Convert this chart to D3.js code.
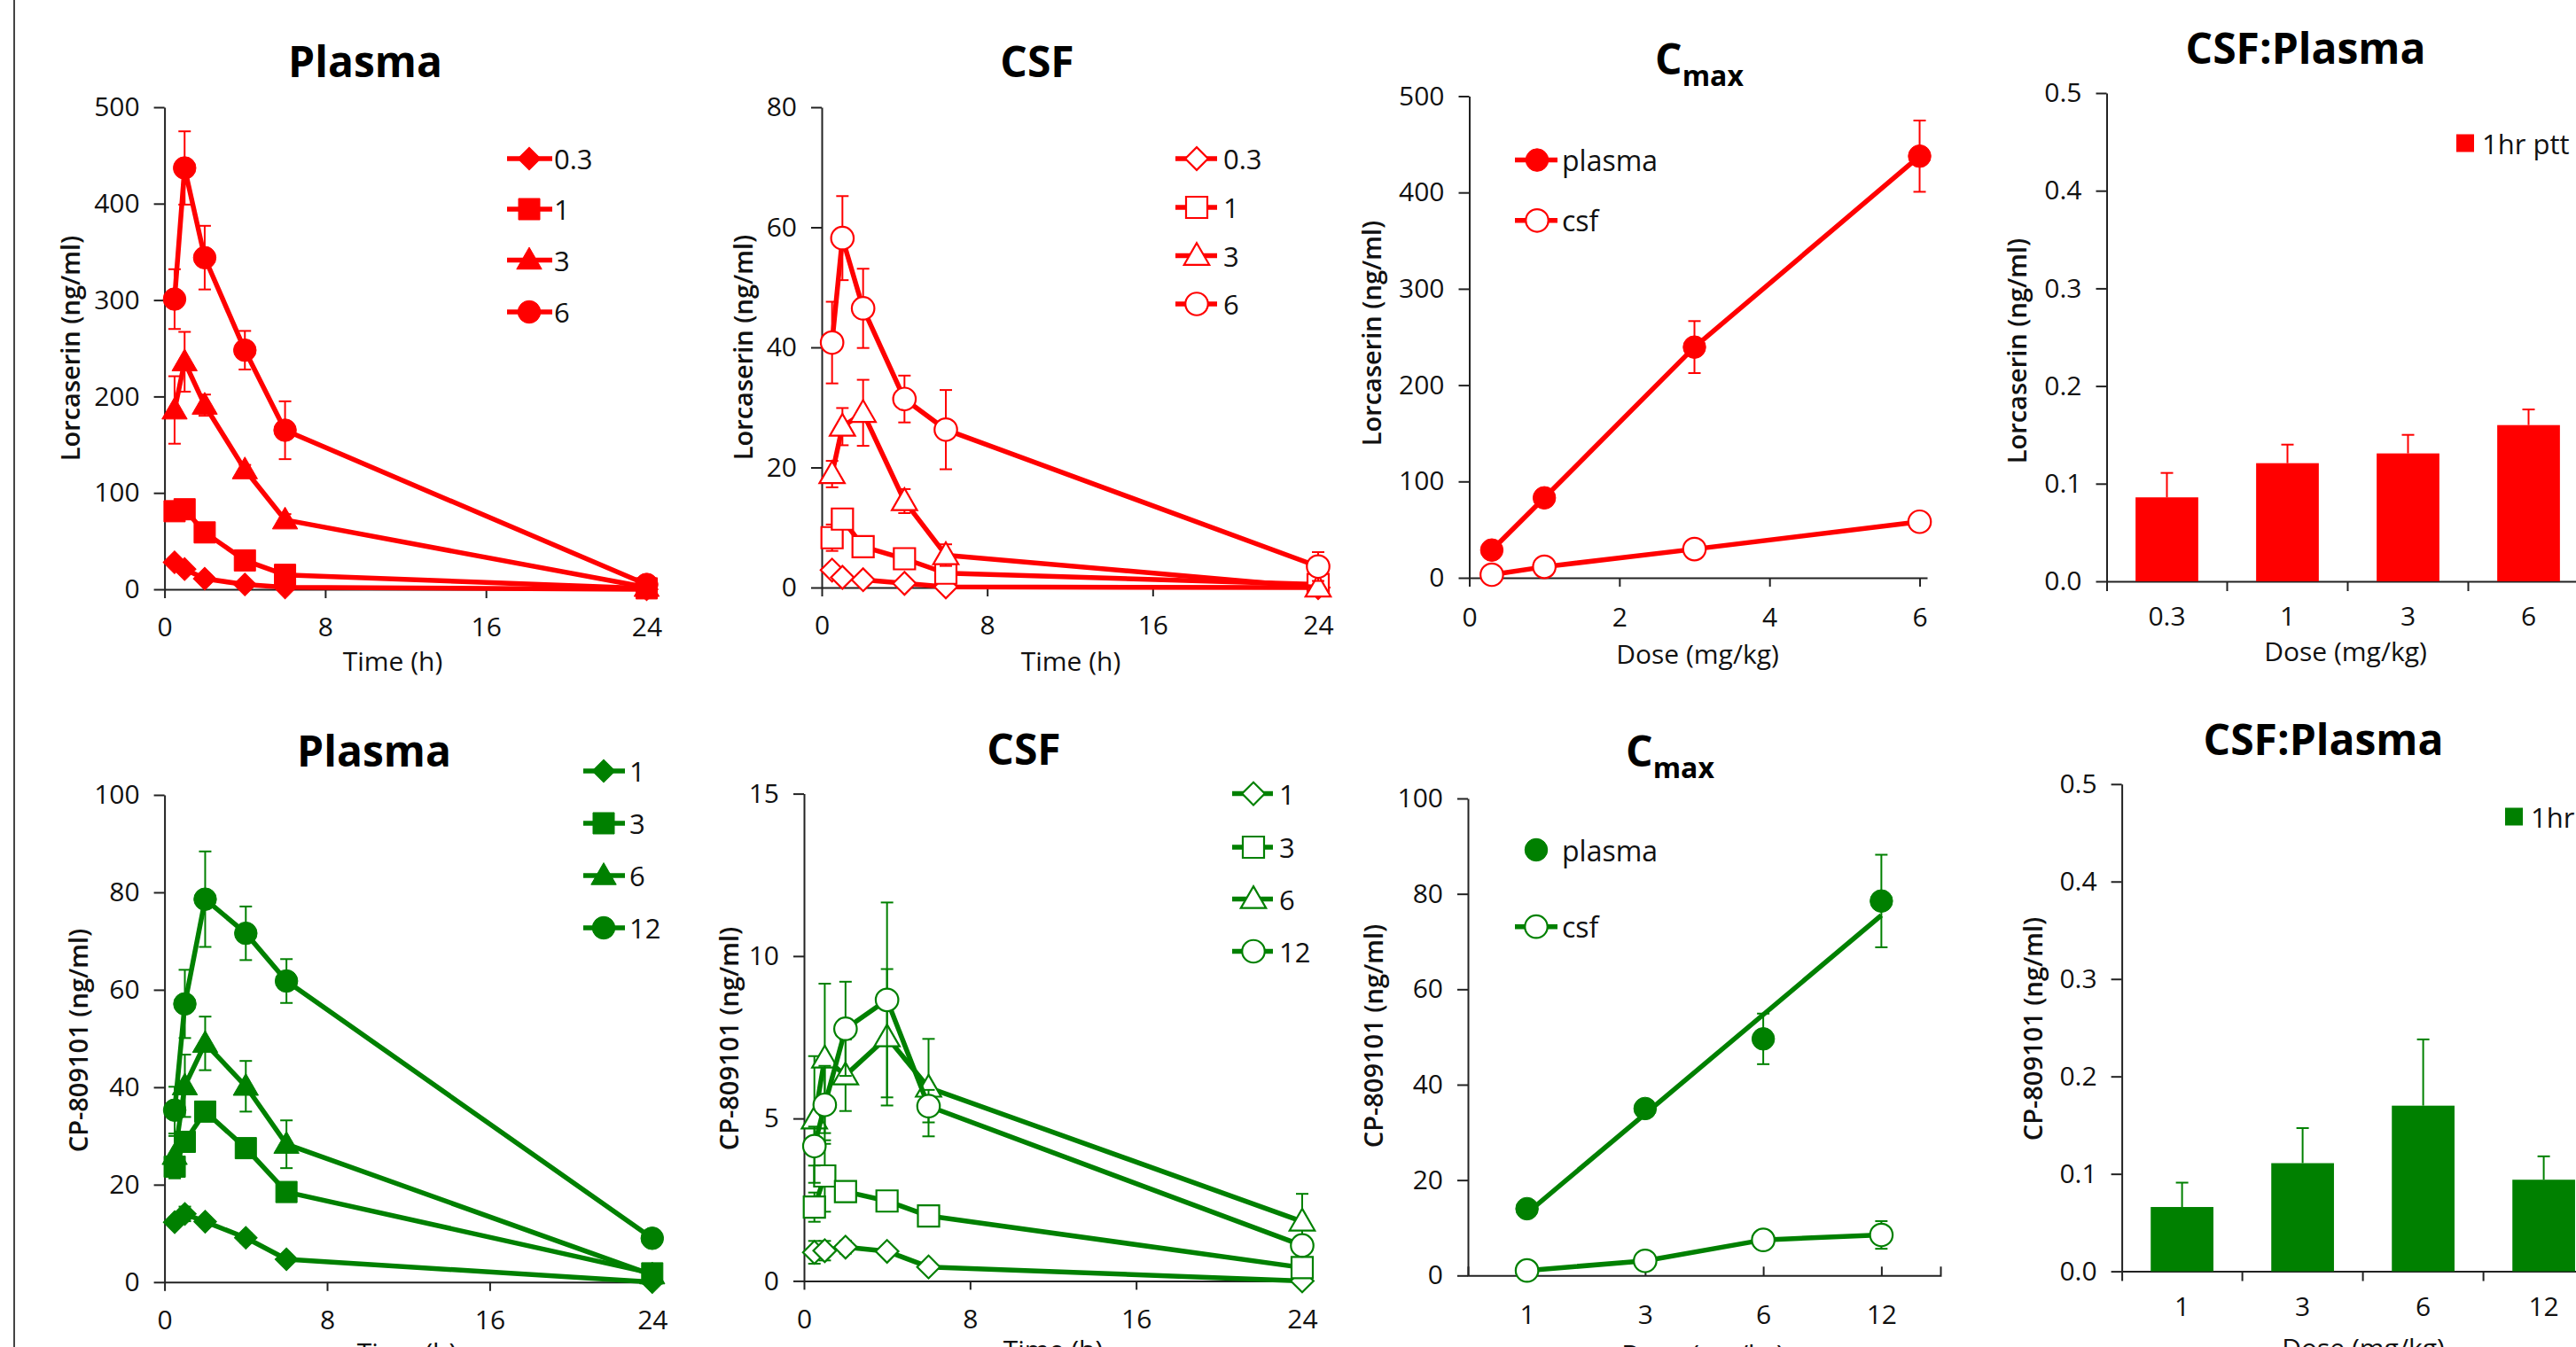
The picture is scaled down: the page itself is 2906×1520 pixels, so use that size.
<!DOCTYPE html>
<html>
<head>
<meta charset="utf-8">
<script src="https://cdn.jsdelivr.net/npm/d3@7"></script>
<style>
  body { margin: 0; background: #fff; }
  svg { display: block; font-family: "Open Sans", sans-serif; }
</style>
</head>
<body>
<div id="chart"></div>
<script>
// ---- data ----
const times = [0.5, 1, 2, 4, 6, 24];
const timeTicks = [0, 8, 16, 24];

const lorDoses = ["0.3", "1", "3", "6"];
const lorPlasmaMean = [
  [28, 21, 11, 5, 2, 0],
  [81, 83, 59, 30, 15, 1],
  [186, 236, 191, 124, 72, 2],
  [301, 437, 344, 248, 165, 5]
];
const lorPlasmaErr = [
  [3, 2, 2, 1, 1, 0],
  [5, 6, 5, 3, 2, 0],
  [35, 31, 11, 5, 6, 0],
  [31, 38, 33, 20, 30, 2]
];
const lorCsfMean = [
  [2.9, 1.7, 1.3, 0.7, 0.1, 0],
  [8.3, 11.4, 6.8, 4.8, 2.4, 0.5],
  [18.9, 26.8, 29.1, 14.4, 5.4, 0],
  [40.8, 58.2, 46.5, 31.4, 26.3, 3.5]
];
const lorCsfErr = [
  [0.5, 0.3, 0.3, 0.2, 0.1, 0],
  [2.2, 1.5, 0.8, 0.6, 0.5, 0.2],
  [2.2, 3.1, 5.5, 2.0, 1.8, 0],
  [6.8, 7.0, 6.6, 3.9, 6.6, 2.4]
];
const lorCmaxDose = [0.3, 1, 3, 6];
const lorCmaxPlasma = [28.8, 83, 239.5, 437.7];
const lorCmaxPlasmaErr = [4, 6, 27, 37];
const lorCmaxCsf = [3.2, 11.4, 29.8, 58.2];
const lorCmaxCsfErr = [0.5, 1.5, 3, 5];
const lorRatio = [0.086, 0.121, 0.131, 0.160];
const lorRatioErr = [0.025, 0.019, 0.019, 0.016];

const cpDoses = ["1", "3", "6", "12"];
const cpPlasmaMean = [
  [12.3, 14.0, 12.4, 9.1, 4.7, 0],
  [23.7, 28.8, 35.0, 27.5, 18.5, 1.8],
  [26, 40.3, 49, 40.2, 28.3, 1.5],
  [35.3, 57.1, 78.6, 71.6, 61.8, 9.0]
];
const cpPlasmaErr = [
  [1, 1.5, 1, 1, 0.8, 0],
  [2.4, 2, 1.5, 1.5, 1.5, 0.5],
  [4, 6.4, 5.5, 5.2, 4.9, 0.5],
  [4.8, 7, 9.8, 5.5, 4.5, 1]
];
const cpCsfMean = [
  [0.88, 0.93, 1.04, 0.91, 0.43, 0],
  [2.27, 3.23, 2.75, 2.46, 2.0, 0.41],
  [4.97, 6.85, 6.33, 7.5, 5.95, 1.83],
  [4.15, 5.42, 7.76, 8.65, 5.38, 1.09]
];
const cpCsfErr = [
  [0.35, 0.3, 0.2, 0.15, 0.15, 0],
  [0.45, 1.1, 0.2, 0.15, 0.2, 0.1],
  [1.95, 2.3, 1.1, 2.1, 1.5, 0.85],
  [0.6, 1.2, 1.45, 3.0, 0.5, 0.2]
];
const cpCmaxPlasma = [14.0, 35.0, 49.6, 78.5];
const cpCmaxPlasmaErr = [1, 1.5, 5.3, 9.7];
const cpCmaxCsf = [1.05, 3.07, 7.46, 8.5];
const cpCmaxCsfErr = [0.3, 0.5, 1.9, 2.9];
const cpRatio = [0.066, 0.111, 0.170, 0.094];
const cpRatioErr = [0.025, 0.036, 0.068, 0.024];

const ratioTicks = [0, 0.1, 0.2, 0.3, 0.4, 0.5];

// ---- drawing ----
const RED = "#ff0000", GREEN = "#008000";
const shapes = ["diamond", "square", "triangle", "circle"];

const svg = d3.select("#chart")
  .append("svg")
  .attr("width", 2906)
  .attr("height", 1520);

svg.append("rect").attr("width", 2906).attr("height", 1520).attr("fill", "#fff");
// thin frame line on the left edge of the figure
svg.append("line")
  .attr("x1", 16).attr("x2", 16).attr("y1", 0).attr("y2", 1520)
  .attr("stroke", "#444").attr("stroke-width", 2);

function styleAxis(g) {
  g.selectAll(".domain, .tick line").attr("stroke", "#222").attr("stroke-width", 2);
  g.selectAll("text").attr("font-size", 30).attr("fill", "#111")
    .attr("font-family", "Open Sans, sans-serif");
}

function marker(g, shape, x, y, color, filled) {
  const sizes = { circle: 510, square: 576, triangle: 350, diamond: 330 };
  const type = shape === "circle" ? d3.symbolCircle
    : shape === "triangle" ? d3.symbolTriangle : d3.symbolSquare;
  g.append("path")
    .attr("d", d3.symbol().type(type).size(sizes[shape])())
    .attr("transform", `translate(${x},${y})` + (shape === "diamond" ? " rotate(45)" : "")
      + (shape === "triangle" ? " translate(0,2)" : ""))
    .attr("fill", filled ? color : "#fff")
    .attr("stroke", color)
    .attr("stroke-width", filled ? 1 : 2.2);
}

function errorBar(g, x, y, m, e, color, upOnly) {
  if (!e) return;
  const top = y(m + e), bot = upOnly ? y(m) : y(m - e);
  g.append("line").attr("x1", x).attr("x2", x).attr("y1", top).attr("y2", bot)
    .attr("stroke", color).attr("stroke-width", 2);
  g.append("line").attr("x1", x - 7).attr("x2", x + 7).attr("y1", top).attr("y2", top)
    .attr("stroke", color).attr("stroke-width", 2);
  if (!upOnly)
    g.append("line").attr("x1", x - 7).attr("x2", x + 7).attr("y1", bot).attr("y2", bot)
      .attr("stroke", color).attr("stroke-width", 2);
}

function title(t, x, y, sub, size) {
  const txt = svg.append("text").attr("x", x).attr("y", y)
    .attr("text-anchor", "middle").attr("font-size", size || 48)
    .attr("font-weight", 700).attr("fill", "#000").text(t);
  if (sub) txt.append("tspan").attr("font-size", 32).attr("dy", 13).text(sub);
}

function yLabel(t, x, y) {
  svg.append("text").attr("transform", `translate(${x},${y}) rotate(-90)`)
    .attr("text-anchor", "middle").attr("dominant-baseline", "central")
    .attr("font-size", 29).attr("font-weight", 600).attr("fill", "#111").text(t);
}

function xLabel(t, x, y) {
  svg.append("text").attr("x", x).attr("y", y).attr("text-anchor", "middle")
    .attr("font-size", 30).attr("fill", "#111").text(t);
}

function timePanel(c) {
  const g = svg.append("g");
  const x = d3.scaleLinear().domain([0, 24]).range([c.x0, c.x1]);
  const y = d3.scaleLinear().domain([0, c.yMax]).range([c.y0, c.y1]);

  g.append("g").attr("transform", `translate(0,${c.y0})`)
    .call(d3.axisBottom(x).tickValues(timeTicks).tickSize(10).tickPadding(22).tickSizeOuter(0))
    .call(styleAxis);
  g.append("g").attr("transform", `translate(${c.x0},0)`)
    .call(d3.axisLeft(y).tickValues(c.yTicks).tickSize(12).tickPadding(16).tickSizeOuter(0))
    .call(styleAxis);

  const line = d3.line().x((d, i) => x(times[i])).y(d => y(d));
  c.mean.forEach((row, s) => {
    const sg = g.append("g");
    sg.append("path").datum(row).attr("d", line)
      .attr("fill", "none").attr("stroke", c.color).attr("stroke-width", 5.5)
      .attr("stroke-linejoin", "round");
    row.forEach((v, i) => errorBar(sg, x(times[i]), y, v, c.err[s][i], c.color, false));
    row.forEach((v, i) => marker(sg, shapes[s], x(times[i]), y(v), c.color, c.filled));
  });

  // legend
  const L = c.legend;
  c.doses.forEach((d, s) => {
    const ly = L.ys[s];
    g.append("line").attr("x1", L.x0).attr("x2", L.x1).attr("y1", ly).attr("y2", ly)
      .attr("stroke", c.color).attr("stroke-width", 5.5);
    marker(g, shapes[s], L.mx, ly, c.color, c.filled);
    g.append("text").attr("x", L.tx).attr("y", ly).attr("dominant-baseline", "central")
      .attr("font-size", 31).attr("fill", "#111").text(d);
  });
}

function ratioPanel(c) {
  const g = svg.append("g");
  const x = d3.scaleBand().domain(c.doses).range([c.x0, c.x0 + 4 * 136])
    .paddingInner(0.48).paddingOuter(0.24);
  const y = d3.scaleLinear().domain([0, 0.5]).range([c.y0, c.y1]);

  g.append("g").attr("transform", `translate(${c.x0},0)`)
    .call(d3.axisLeft(y).tickValues(ratioTicks).tickFormat(d3.format(".1f"))
      .tickSize(12).tickPadding(16).tickSizeOuter(0))
    .call(styleAxis);
  g.append("g").attr("transform", `translate(0,${c.y0})`)
    .call(d3.axisBottom(x).tickSize(0).tickPadding(29).tickSizeOuter(11))
    .call(styleAxis);
  // category boundary ticks
  d3.range(1, 4).forEach(i => {
    const bx = x.range()[0] + i * x.step();
    g.append("line").attr("x1", bx).attr("x2", bx).attr("y1", c.y0).attr("y2", c.y0 + 11)
      .attr("stroke", "#222").attr("stroke-width", 2);
  });

  g.selectAll(".bar").data(c.values).join("rect")
    .attr("x", (d, i) => x(c.doses[i]))
    .attr("y", d => y(d))
    .attr("width", x.bandwidth())
    .attr("height", d => c.y0 - y(d))
    .attr("fill", c.color);
  c.values.forEach((v, i) =>
    errorBar(g, x(c.doses[i]) + x.bandwidth() / 2, y, v, c.err[i], c.color, true));

  g.append("rect").attr("x", c.legend.x).attr("y", c.legend.y - 10)
    .attr("width", 20).attr("height", 20).attr("fill", c.color);
  g.append("text").attr("x", c.legend.x + 29).attr("y", c.legend.y)
    .attr("dominant-baseline", "central").attr("font-size", 31).attr("fill", "#111")
    .text("1hr ptt");
}

// ---- top row: lorcaserin ----
timePanel({
  x0: 185.6, x1: 729.5, y0: 665, y1: 121, yMax: 500, yTicks: [0, 100, 200, 300, 400, 500],
  mean: lorPlasmaMean, err: lorPlasmaErr, doses: lorDoses, color: RED, filled: true,
  legend: { x0: 572, x1: 623, mx: 597, tx: 625, ys: [179, 236, 293.5, 352] }
});
title("Plasma", 412, 87);
yLabel("Lorcaserin (ng/ml)", 78, 393);
xLabel("Time (h)", 443, 757);

timePanel({
  x0: 927, x1: 1487, y0: 663, y1: 121, yMax: 80, yTicks: [0, 20, 40, 60, 80],
  mean: lorCsfMean, err: lorCsfErr, doses: lorDoses, color: RED, filled: false,
  legend: { x0: 1326, x1: 1373, mx: 1350, tx: 1380, ys: [179, 234, 288.6, 343] }
});
title("CSF", 1170, 87);
yLabel("Lorcaserin (ng/ml)", 837, 392);
xLabel("Time (h)", 1208, 757);

(function () {
  const g = svg.append("g");
  const x = d3.scaleLinear().domain([0, 6.1]).range([1657.5, 2174]);
  const y = d3.scaleLinear().domain([0, 500]).range([652, 108.5]);
  g.append("g").attr("transform", "translate(0,652)")
    .call(d3.axisBottom(x).tickValues([0, 2, 4, 6]).tickFormat(d3.format("d"))
      .tickSize(10).tickPadding(24).tickSizeOuter(0))
    .call(styleAxis);
  g.append("g").attr("transform", "translate(1657.5,0)")
    .call(d3.axisLeft(y).tickValues([0, 100, 200, 300, 400, 500]).tickSize(12).tickPadding(16).tickSizeOuter(0))
    .call(styleAxis);
  const line = d3.line().x((d, i) => x(lorCmaxDose[i])).y(d => y(d));
  [[lorCmaxPlasma, lorCmaxPlasmaErr, true], [lorCmaxCsf, lorCmaxCsfErr, false]].forEach(([vals, errs, filled]) => {
    g.append("path").datum(vals).attr("d", line).attr("fill", "none")
      .attr("stroke", RED).attr("stroke-width", 5.5);
    vals.forEach((v, i) => errorBar(g, x(lorCmaxDose[i]), y, v, errs[i], RED, false));
    vals.forEach((v, i) => marker(g, "circle", x(lorCmaxDose[i]), y(v), RED, filled));
  });
  [["plasma", 180.6, true], ["csf", 248.8, false]].forEach(([t, ly, filled]) => {
    g.append("line").attr("x1", 1709).attr("x2", 1757).attr("y1", ly).attr("y2", ly)
      .attr("stroke", RED).attr("stroke-width", 5.5);
    marker(g, "circle", 1734, ly, RED, filled);
    g.append("text").attr("x", 1762).attr("y", ly).attr("dominant-baseline", "central")
      .attr("font-size", 32).attr("fill", "#111").text(t);
  });
})();
title("C", 1917, 84, "max");
yLabel("Lorcaserin (ng/ml)", 1546, 376);
xLabel("Dose (mg/kg)", 1915, 749);

ratioPanel({
  x0: 2376.5, y0: 656, y1: 105, doses: lorDoses, values: lorRatio, err: lorRatioErr,
  color: RED, legend: { x: 2771, y: 161.5 }
});
title("CSF:Plasma", 2601, 72);
yLabel("Lorcaserin (ng/ml)", 2274, 396);
xLabel("Dose (mg/kg)", 2646, 746);

// ---- bottom row: CP-809101 ----
timePanel({
  x0: 185.6, x1: 735.8, y0: 1446.8, y1: 897, yMax: 100, yTicks: [0, 20, 40, 60, 80, 100],
  mean: cpPlasmaMean, err: cpPlasmaErr, doses: cpDoses, color: GREEN, filled: true,
  legend: { x0: 658, x1: 705, mx: 681, tx: 710, ys: [870, 929, 988, 1047] }
});
title("Plasma", 422, 865);
yLabel("CP-809101 (ng/ml)", 87, 1174);
xLabel("Time (h)", 459, 1537);

timePanel({
  x0: 907, x1: 1469, y0: 1445.4, y1: 895.6, yMax: 15, yTicks: [0, 5, 10, 15],
  mean: cpCsfMean, err: cpCsfErr, doses: cpDoses, color: GREEN, filled: false,
  legend: { x0: 1390, x1: 1436, mx: 1414, tx: 1443, ys: [895.6, 956, 1014.5, 1073.5] }
});
title("CSF", 1155, 863);
yLabel("CP-809101 (ng/ml)", 821, 1172);
xLabel("Time (h)", 1188, 1534);

(function () {
  const g = svg.append("g");
  const x = d3.scalePoint().domain(cpDoses).range([1656, 2189]).padding(0.5);
  const y = d3.scaleLinear().domain([0, 100]).range([1439.3, 901]);
  g.append("g").attr("transform", "translate(0,1439.3)")
    .call(d3.axisBottom(x).tickSizeInner(-10).tickSizeOuter(-10).tickPadding(33))
    .call(styleAxis);
  g.append("g").attr("transform", "translate(1656,0)")
    .call(d3.axisLeft(y).tickValues([0, 20, 40, 60, 80, 100]).tickSize(12).tickPadding(16).tickSizeOuter(0))
    .call(styleAxis);

  // linear trend of plasma Cmax over the dose categories
  const idx = cpCmaxPlasma.map((d, i) => i);
  const mx = d3.mean(idx), my = d3.mean(cpCmaxPlasma);
  const slope = d3.sum(idx, i => (i - mx) * (cpCmaxPlasma[i] - my)) / d3.sum(idx, i => (i - mx) ** 2);
  const fit = i => my + slope * (i - mx);
  g.append("line")
    .attr("x1", x(cpDoses[0])).attr("y1", y(fit(0)))
    .attr("x2", x(cpDoses[3])).attr("y2", y(fit(3)))
    .attr("stroke", GREEN).attr("stroke-width", 5.5);
  cpCmaxPlasma.forEach((v, i) => errorBar(g, x(cpDoses[i]), y, v, cpCmaxPlasmaErr[i], GREEN, false));
  cpCmaxPlasma.forEach((v, i) => marker(g, "circle", x(cpDoses[i]), y(v), GREEN, true));

  const line = d3.line().x((d, i) => x(cpDoses[i])).y(d => y(d));
  g.append("path").datum(cpCmaxCsf).attr("d", line).attr("fill", "none")
    .attr("stroke", GREEN).attr("stroke-width", 5.5);
  cpCmaxCsf.forEach((v, i) => errorBar(g, x(cpDoses[i]), y, v, cpCmaxCsfErr[i], GREEN, false));
  cpCmaxCsf.forEach((v, i) => marker(g, "circle", x(cpDoses[i]), y(v), GREEN, false));

  marker(g, "circle", 1733, 959, GREEN, true);
  g.append("text").attr("x", 1762).attr("y", 959).attr("dominant-baseline", "central")
    .attr("font-size", 32).attr("fill", "#111").text("plasma");
  g.append("line").attr("x1", 1709).attr("x2", 1757).attr("y1", 1045.7).attr("y2", 1045.7)
    .attr("stroke", GREEN).attr("stroke-width", 5.5);
  marker(g, "circle", 1733, 1045.7, GREEN, false);
  g.append("text").attr("x", 1762).attr("y", 1045.7).attr("dominant-baseline", "central")
    .attr("font-size", 32).attr("fill", "#111").text("csf");
})();
title("C", 1884, 865, "max");
yLabel("CP-809101 (ng/ml)", 1548, 1169);
xLabel("Dose (mg/kg)", 1921, 1539);

ratioPanel({
  x0: 2393.6, y0: 1434.6, y1: 884.8, doses: cpDoses, values: cpRatio, err: cpRatioErr,
  color: GREEN, legend: { x: 2826, y: 921.5 }
});
title("CSF:Plasma", 2621, 852);
yLabel("CP-809101 (ng/ml)", 2292, 1161);
xLabel("Dose (mg/kg)", 2666, 1532);
</script>
</body>
</html>
